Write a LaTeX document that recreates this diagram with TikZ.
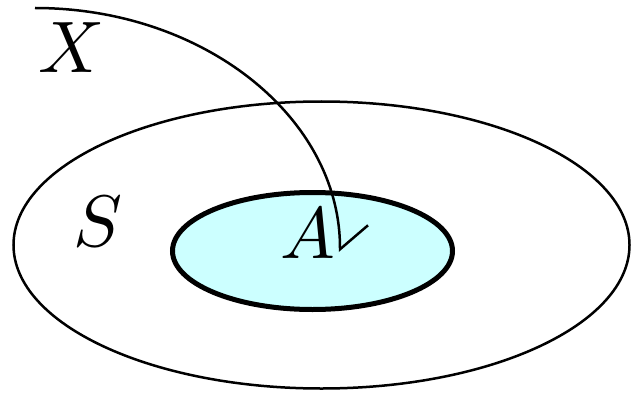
\documentclass[tikz,border=0pt]{standalone}
\usetikzlibrary{arrows.meta}
\definecolor{lightcyan}{RGB}{204,255,255}
\tikzset{
  setline/.style={line width=2.5pt, draw=black},
  subsetline/.style={line width=5pt, draw=black, fill=lightcyan},
  biglabel/.style={anchor=base, inner sep=0pt, scale=7.3},
  mapline/.style={line width=2.5pt, -{Straight Barb[harpoon, length=24pt, width=56pt, line width=2.5pt]}}
}
\begin{document}
\begin{tikzpicture}[x=1pt,y=1pt]
\useasboundingbox (0,0) rectangle (631,-393);
\draw[setline] (321.5,-245) ellipse [x radius=308, y radius=143.5];
\draw[subsetline] (312.5,-251) ellipse [x radius=140, y radius=58.5];
\node[biglabel] (X) at (72,-73) {$X$};
\node[biglabel] (S) at (98,-246) {$S$};
\node[biglabel] (A) at (308,-258) {$A$};
\coordinate (start) at (35,-8);
\coordinate (tip) at (340,-252);
\draw[mapline] (start) .. controls (203.4,-8) and (340,-117.2) .. (tip);
\end{tikzpicture}
\end{document}
